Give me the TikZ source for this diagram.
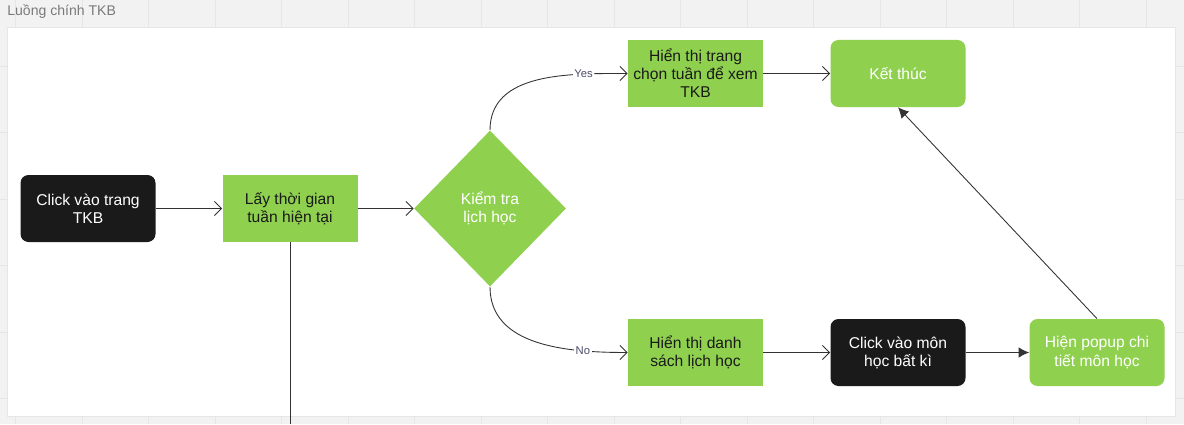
\documentclass[tikz,border=0pt]{standalone}
\usepackage{fontspec}
\setmainfont{Liberation Sans}
\usepackage{tikz}
\usetikzlibrary{arrows.meta}
\usetikzlibrary{shapes.geometric}
\definecolor{miroGreen}{HTML}{8FD14F}
\definecolor{miroBlack}{HTML}{1A1A1A}
\definecolor{lineGray}{HTML}{333333}
\definecolor{canvas}{HTML}{F2F2F2}
\definecolor{gridGray}{HTML}{E6E6E6}
\definecolor{titleGray}{HTML}{7A7A7A}
\definecolor{labelInk}{HTML}{4B4B6B}
\tikzset{box/.style = {minimum width = 2.7cm, minimum height = 1.34cm, inner sep = 0,
                       align = center, font = \fontsize{8.9}{10.3}\selectfont}}
\tikzset{task/.style = {box, fill = miroGreen, text = miroBlack}}
\tikzset{endbox/.style = {box, fill = miroGreen, text = white, rounded corners = 0.16cm}}
\tikzset{userbox/.style = {box, fill = miroBlack, text = white, rounded corners = 0.16cm}}
\tikzset{decide/.style = {diamond, fill = miroGreen, text = white, minimum width = 3.04cm,
                          minimum height = 3.12cm, inner sep = 0, align = center,
                          font = \fontsize{8.9}{10.3}\selectfont}}
\tikzset{flow/.style = {draw = lineGray, line width = 0.5pt, -{Straight Barb[length=4pt, width=8pt]}}}
\tikzset{flowfill/.style = {draw = lineGray, line width = 0.5pt, -{Latex[length=6pt, width=6pt]}}}
\tikzset{answer/.style = {fill = white, text = labelInk, inner sep = 1pt, font = \fontsize{6.4}{7}\selectfont}}

\begin{document}
\begin{tikzpicture}
      \useasboundingbox (0, 0) rectangle (23.68, 8.48);
      % canvas and board
      \fill [canvas] (0, 0) rectangle (23.68, 8.48);
      \foreach \x in {0.31, 1.64, ..., 23.6} \draw [gridGray] (\x, 0) -- (\x, 8.48);
      \foreach \y in {0.51, 1.84, ..., 8.48} \draw [gridGray] (0, \y) -- (23.68, \y);
      \draw [draw = gridGray, fill = white] (0.14, 0.16) rectangle (23.5, 7.94);
      \node [anchor = west, inner sep = 0, text = titleGray, font = \fontsize{8}{9}\selectfont]
            (title) at (0.14, 8.24) {Luồng chính TKB};
      % steps
      \node [userbox] (start) at (1.76, 4.31) {Click vào trang\\TKB};
      \node [task] (lay) at (5.8, 4.31) {Lấy thời gian\\tuần hiện tại};
      \node [decide] (dia) at (9.8, 4.31) {Kiểm tra\\lịch học};
      \node [task] (hienTrang) at (13.91, 7.01) {Hiển thị trang\\chọn tuần để xem\\TKB};
      \node [endbox] (ketThuc) at (17.96, 7.01) {Kết thúc};
      \node [task] (hienDS) at (13.91, 1.43) {Hiển thị danh\\sách lịch học};
      \node [userbox] (clickMon) at (17.96, 1.43) {Click vào môn\\học bất kì};
      \node [endbox] (popup) at (21.94, 1.43) {Hiện popup chi\\tiết môn học};
      \coordinate (offDown) at (5.8, 0);
      % connectors
      \draw [flow] (start) -- (lay);
      \draw [flow] (lay) -- (dia);
      \draw [flow] (dia.north) to [out = 90, in = 180] node [answer, pos = 0.76] {Yes} (hienTrang);
      \draw [flow] (dia.south) to [out = -90, in = 180] node [answer, pos = 0.76] {No} (hienDS);
      \draw [flow] (hienTrang) -- (ketThuc);
      \draw [flow] (hienDS) -- (clickMon);
      \draw [flowfill] (clickMon) -- (popup);
      \draw [flowfill] (popup.north) -- (ketThuc.south);
      \draw [draw = lineGray, line width = 0.5pt] (lay.south) -- (offDown);
\end{tikzpicture}
\end{document}
